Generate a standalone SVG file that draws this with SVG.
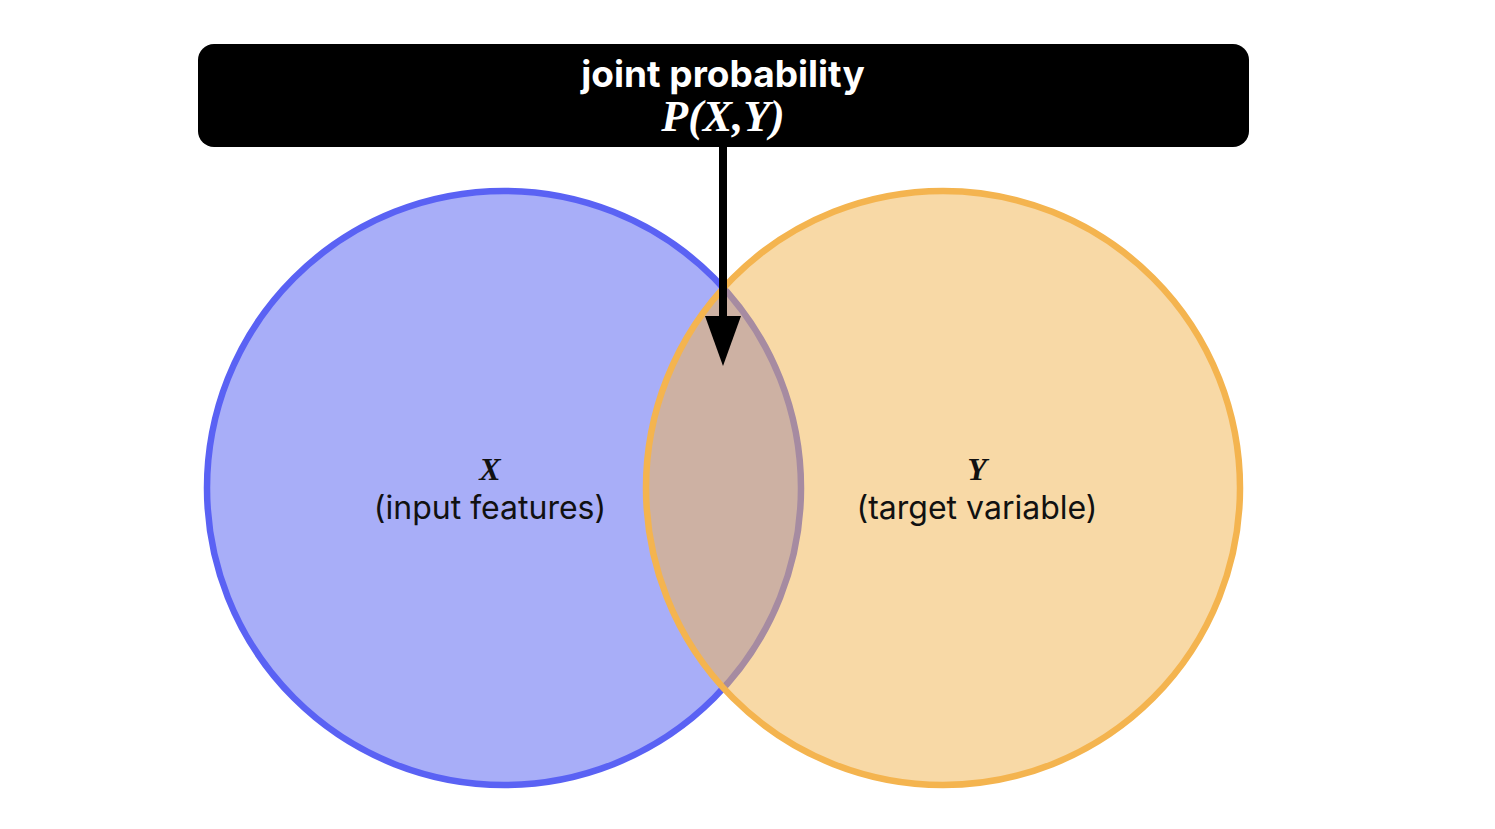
<svg xmlns="http://www.w3.org/2000/svg" width="1495" height="829" viewBox="0 0 1495 829">
<style>
.sans{font-family:Inter,"Noto Sans","Liberation Sans",sans-serif;}
.math{font-family:"Liberation Serif","DejaVu Serif",serif;font-style:italic;font-weight:bold;}
.lbl{font-size:32px;fill:#111;text-anchor:middle;}
</style>
<defs>
<marker id="ah" markerWidth="50" markerHeight="36" refX="0" refY="18" orient="auto" markerUnits="userSpaceOnUse" viewBox="0 0 50 36">
<path d="M0,0 L50,18 L0,36 Z" fill="#000"/>
</marker>
</defs>
<rect width="1495" height="829" fill="#fff"/>
<g id="nodeX">
<circle cx="504" cy="488" r="297" fill="#a8aef8" stroke="#5a62f4" stroke-width="6.5"/>
<text class="math lbl" x="490" y="480" font-size="36">X</text>
<text class="sans lbl" x="490" y="519">(input features)</text>
</g>
<g id="nodeY">
<circle cx="943" cy="488" r="297" fill="#f2b44e" fill-opacity="0.5" stroke="#f4b44f" stroke-width="6.5"/>
<text class="math lbl" x="977" y="480" font-size="36">Y</text>
<text class="sans lbl" x="977" y="519">(target variable)</text>
</g>
<g id="header">
<rect x="198" y="44" width="1051" height="103" rx="16" fill="#000"/>
<text class="sans" x="723" y="87" font-size="37" font-weight="bold" fill="#fff" text-anchor="middle">joint probability</text>
<text class="math" x="723" y="131" font-size="44" fill="#fff" text-anchor="middle">P(X,Y)</text>
</g>
<g id="connectors">
<line x1="723" y1="146" x2="723" y2="316" stroke="#000" stroke-width="8" marker-end="url(#ah)"/>
</g>
</svg>
